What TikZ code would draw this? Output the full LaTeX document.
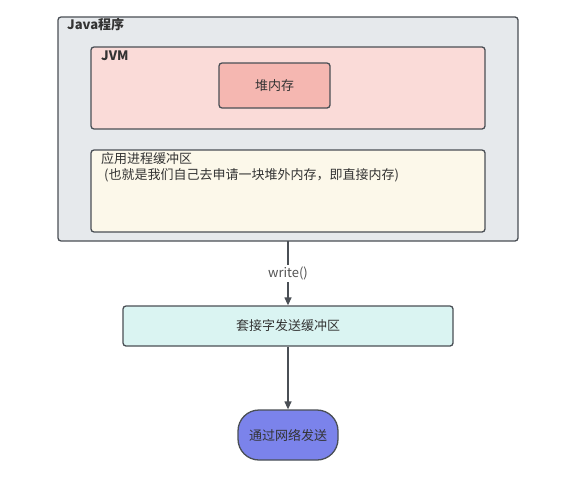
\documentclass[tikz,border=0pt]{standalone}
\usepackage{fontspec}
\setmainfont{Noto Sans CJK SC}
\usetikzlibrary{arrows.meta}
\definecolor{edgec}{HTML}{4A4F55}
\definecolor{outerf}{HTML}{E6E9EC}
\definecolor{jvmf}{HTML}{FADBD8}
\definecolor{heapf}{HTML}{F5B7B1}
\definecolor{buff}{HTML}{FCF8EA}
\definecolor{sockf}{HTML}{DAF4F2}
\definecolor{netf}{HTML}{7B83EB}
\definecolor{txt}{HTML}{333333}
\tikzset{
  x=1pt,y=-1pt,
  box/.style={draw=edgec,line width=1.3pt,rounded corners=3pt},
  lbl/.style={anchor=north west,inner sep=0pt,text=txt,font=\fontsize{13}{16}\selectfont},
  ctr/.style={text=txt,font=\fontsize{13}{16}\selectfont},
  arr/.style={draw=edgec,line width=1.3pt,-{Triangle[length=8pt,width=7pt]}},
}
\begin{document}
\begin{tikzpicture}
\useasboundingbox (0,0) rectangle (569,487);
% outer
\draw[box,fill=outerf] (58,17) rectangle (518,241);
\coordinate (outerB) at (288,241);
\node[lbl,font=\fontsize{13}{16}\selectfont\bfseries] (javal) at (67,18) {Java程序};
% JVM
\draw[box,fill=jvmf] (91,47) rectangle (485,129);
\node[lbl,font=\fontsize{13}{16}\selectfont\bfseries] (jvml) at (101,51) {JVM};
\node[box,fill=heapf,minimum width=111pt,minimum height=45pt,ctr] (heap) at (274.5,85.5) {堆内存};
% buffer
\draw[box,fill=buff] (91,150) rectangle (485,232);
\node[lbl,align=left] (bufl) at (101,152) {应用进程缓冲区\\\hspace*{3pt}(也就是我们自己去申请一块堆外内存，即直接内存)};
% socket
\node[box,fill=sockf,minimum width=330pt,minimum height=40pt,ctr] (sock) at (288,326) {套接字发送缓冲区};
% net
\node[draw=edgec,line width=1.3pt,fill=netf,rounded corners=21pt,minimum width=100pt,minimum height=50pt,ctr] (net) at (288,435) {通过网络发送};
% arrows
\draw[arr] (outerB) -- node[fill=white,inner sep=2pt,text=txt!85,font=\fontsize{13}{16}\selectfont] (wl) {write()} (sock.north);
\draw[arr] (sock.south) -- (net.north);
\end{tikzpicture}
\end{document}
